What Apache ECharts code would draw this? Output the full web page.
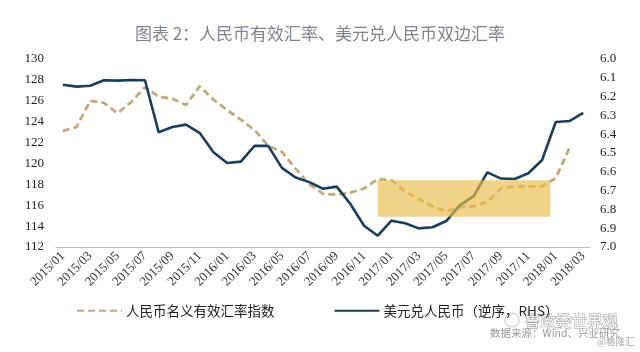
<!DOCTYPE html>
<html>
<head>
<meta charset="utf-8">
<script src="https://cdn.jsdelivr.net/npm/echarts@6/dist/echarts.min.js"></script>
<style>
  html, body { margin: 0; padding: 0; background: #fff; }
  #chart { width: 640px; height: 352px; }
</style>
</head>
<body>
<div id="chart"></div>
<script>
// 月份
const months = [
  '2015/01', '2015/02', '2015/03', '2015/04', '2015/05', '2015/06', '2015/07', '2015/08', '2015/09', '2015/10', '2015/11', '2015/12',
  '2016/01', '2016/02', '2016/03', '2016/04', '2016/05', '2016/06', '2016/07', '2016/08', '2016/09', '2016/10', '2016/11', '2016/12',
  '2017/01', '2017/02', '2017/03', '2017/04', '2017/05', '2017/06', '2017/07', '2017/08', '2017/09', '2017/10', '2017/11', '2017/12',
  '2018/01', '2018/02', '2018/03'
];

// 人民币名义有效汇率指数（左轴）
const neerIndex = [
  123.1, 123.5, 126.0, 125.8, 124.8, 125.9, 127.3, 126.4, 126.2, 125.6, 127.4, 126.1,
  125.1, 124.2, 123.2, 121.7, 121.1, 119.5, 118.0, 117.1, 117.0, 117.2, 117.6, 118.5,
  118.4, 117.3, 116.6, 115.9, 115.4, 115.8, 115.9, 116.3, 117.6, 117.8, 117.8, 117.8,
  118.6, 121.5, null
];

// 美元兑人民币（右轴，逆序）
const usdCny = [
  6.137, 6.147, 6.142, 6.113, 6.115, 6.112, 6.113, 6.390, 6.362, 6.349, 6.394, 6.496,
  6.553, 6.546, 6.462, 6.462, 6.579, 6.630, 6.655, 6.690, 6.679, 6.771, 6.887, 6.940,
  6.860, 6.874, 6.901, 6.895, 6.862, 6.777, 6.730, 6.603, 6.636, 6.638, 6.608, 6.537,
  6.335, 6.330, 6.287
];

// 阴影区间：[起始月序号, 结束月序号, 上沿(左轴), 下沿(左轴)]
const highlightBox = [23.0, 35.6, 118.4, 114.9];

const seriesNames = ['人民币名义有效汇率指数', '美元兑人民币（逆序，RHS）'];

const chart = echarts.init(document.getElementById('chart'));

const option = {
  backgroundColor: '#fff',
  animation: false,
  title: {
    text: '图表 2：人民币有效汇率、美元兑人民币双边汇率',
    left: 'center',
    top: 20,
    textStyle: {
      fontFamily: 'Noto Sans CJK SC',
      fontSize: 17,
      fontWeight: 'normal',
      color: '#7b8591'
    }
  },
  legend: {
    left: 71,
    top: 299,
    itemWidth: 45,
    itemHeight: 10,
    itemGap: 59,
    data: seriesNames,
    itemStyle: { opacity: 0 },
    textStyle: {
      fontFamily: 'Noto Sans CJK SC',
      fontSize: 13.5,
      color: '#222',
      padding: [0, 0, 0, -1]
    }
  },
  grid: {
    left: 56,
    right: 50,
    top: 59,
    bottom: 105
  },
  xAxis: [
    {
      type: 'category',
      data: months,
      boundaryGap: true,
      axisLine: { lineStyle: { color: '#bfbfbf', width: 1 } },
      axisTick: { interval: 1, length: 5, lineStyle: { color: '#bfbfbf' } },
      axisLabel: {
        interval: 1,
        rotate: 45,
        margin: 7,
        fontFamily: 'Liberation Serif',
        fontSize: 13,
        color: '#333'
      },
      splitLine: { show: false }
    },
    {
      type: 'value',
      min: -0.5,
      max: months.length - 0.5,
      show: false
    }
  ],
  yAxis: [
    {
      type: 'value',
      min: 112,
      max: 130,
      interval: 2,
      axisLine: { show: false },
      axisTick: { show: false },
      splitLine: { show: false },
      axisLabel: {
        margin: 12,
        fontFamily: 'Liberation Serif',
        fontSize: 13,
        color: '#222'
      }
    },
    {
      type: 'value',
      min: 6.0,
      max: 7.0,
      interval: 0.1,
      inverse: true,
      axisLine: { show: false },
      axisTick: { show: false },
      splitLine: { show: false },
      axisLabel: {
        margin: 10,
        fontFamily: 'Liberation Serif',
        fontSize: 13,
        color: '#222',
        formatter: v => v.toFixed(1)
      }
    }
  ],
  series: [
    {
      name: seriesNames[0],
      type: 'line',
      data: neerIndex,
      yAxisIndex: 0,
      symbol: 'none',
      z: 2,
      color: '#c4a87f',
      lineStyle: { color: '#c4a87f', width: 2.8, type: [7, 4] }
    },
    {
      name: seriesNames[1],
      type: 'line',
      data: usdCny,
      yAxisIndex: 1,
      symbol: 'none',
      z: 2,
      color: '#1e3d59',
      lineStyle: { color: '#1e3d59', width: 2.6 }
    },
    {
      type: 'custom',
      xAxisIndex: 1,
      yAxisIndex: 0,
      z: 5,
      silent: true,
      data: [highlightBox],
      renderItem: (params, api) => {
        const p0 = api.coord([api.value(0), api.value(2)]);
        const p1 = api.coord([api.value(1), api.value(3)]);
        return {
          type: 'rect',
          shape: { x: p0[0], y: p0[1], width: p1[0] - p0[0], height: p1[1] - p0[1] },
          style: { fill: 'rgba(232,188,70,0.65)' }
        };
      }
    }
  ],
  graphic: [
    {
      type: 'circle',
      shape: { cx: 512, cy: 320, r: 7 },
      style: { fill: 'none', stroke: '#c4c4c4', lineWidth: 1 }
    },
    {
      type: 'text',
      x: 525,
      y: 313,
      style: {
        text: '鲁政委世界观',
        font: '15.5px "Noto Sans CJK SC"',
        fill: '#fff',
        stroke: '#9a9a9a',
        lineWidth: 1
      }
    },
    {
      type: 'text',
      x: 490,
      y: 328,
      style: {
        text: '数据来源：Wind、兴业研究',
        font: '10.5px "Noto Sans CJK SC"',
        fill: '#9a9a9a'
      }
    },
    {
      type: 'text',
      x: 597,
      y: 337,
      style: {
        text: '@格隆汇',
        font: '9.5px "Noto Sans CJK SC"',
        fill: '#a8a8a8'
      }
    }
  ]
};

chart.setOption(option);
</script>
</body>
</html>
